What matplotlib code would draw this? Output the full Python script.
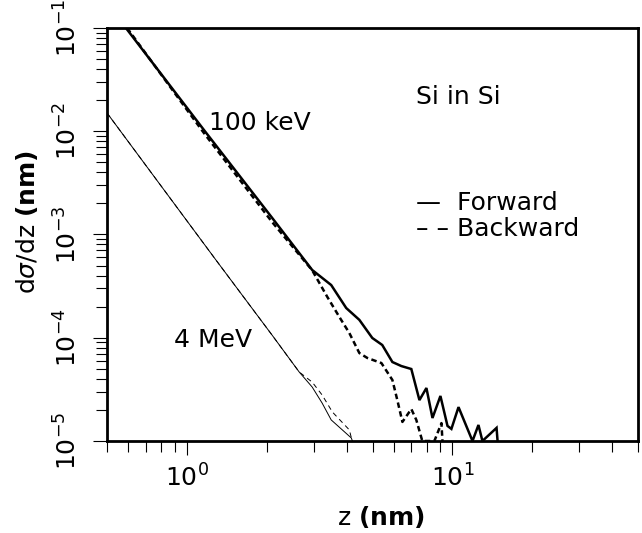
import matplotlib
matplotlib.use('Agg')
import matplotlib.pyplot as plt
from matplotlib.ticker import LogLocator, NullFormatter

plt.rcParams['font.family'] = ['DejaVu Sans']
plt.rcParams['mathtext.fontset'] = 'dejavusans'
plt.rcParams['axes.unicode_minus'] = False

# 100 keV, forward scattering
z_100f = [0.589, 1.159, 2.093, 2.963, 3.494, 3.98, 4.46, 4.99, 5.44, 5.94, 6.42, 7.0,
          7.51, 7.98, 8.41, 9.01, 9.58, 9.91, 10.54, 11.9, 12.53, 12.97, 14.66, 14.79]
s_100f = [1.0e-1, 1.028e-2, 1.45e-3, 4.53e-4, 3.24e-4, 1.94e-4, 1.49e-4, 9.95e-5, 8.51e-5,
          5.82e-5, 5.32e-5, 4.98e-5, 2.49e-5, 3.26e-5, 1.67e-5, 2.73e-5, 1.40e-5, 1.31e-5,
          2.13e-5, 1.0e-5, 1.43e-5, 1.0e-5, 1.34e-5, 1.0e-5]

# 100 keV, backward scattering
z_100b = [0.595, 1.159, 2.093, 2.963, 3.38, 3.75, 4.09, 4.46, 4.78, 5.4, 5.94, 6.2, 6.48,
          7.0, 7.31, 7.7, 8.55, 9.09, 9.17]
s_100b = [1.0e-1, 9.6e-3, 1.32e-3, 4.5e-4, 2.48e-4, 1.59e-4, 1.11e-4, 7.11e-5, 6.37e-5,
          5.69e-5, 3.90e-5, 2.49e-5, 1.53e-5, 2.04e-5, 1.60e-5, 1.0e-5, 1.0e-5, 1.49e-5, 1.0e-5]

# 4 MeV, forward scattering
z_4f = [0.5, 1.286, 2.093, 2.647, 2.963, 3.23, 3.494, 4.16, 4.2]
s_4f = [1.503e-2, 5.66e-4, 1.06e-4, 4.66e-5, 3.33e-5, 2.33e-5, 1.6e-5, 1.07e-5, 1.0e-5]

# 4 MeV, backward scattering
z_4b = [0.5, 1.286, 2.093, 2.647, 2.963, 3.23, 3.53, 4.09, 4.19]
s_4b = [1.503e-2, 5.66e-4, 1.06e-4, 4.66e-5, 3.72e-5, 2.79e-5, 1.91e-5, 1.28e-5, 1.0e-5]

fig = plt.figure(figsize=(6.42, 5.33), dpi=100)
ax = fig.add_axes([0.1667, 0.1726, 0.8271, 0.7749])

ax.plot(z_100f, s_100f, color='black', lw=1.8, solid_joinstyle='miter')
ax.plot(z_100b, s_100b, color='black', lw=1.8, dashes=(2.2, 1.4))
ax.plot(z_4f, s_4f, color='black', lw=0.7)
ax.plot(z_4b, s_4b, color='black', lw=0.7, dashes=(5, 4))

ax.set_xscale('log')
ax.set_yscale('log')
ax.set_xlim(0.5, 50)
ax.set_ylim(1e-5, 1e-1)

ax.xaxis.set_minor_locator(LogLocator(base=10, subs=range(2, 10)))
ax.yaxis.set_minor_locator(LogLocator(base=10, subs=range(2, 10)))
ax.xaxis.set_minor_formatter(NullFormatter())
ax.yaxis.set_minor_formatter(NullFormatter())

for sp in ax.spines.values():
    sp.set_linewidth(2.0)

ax.tick_params(which='both', direction='out', top=False, right=False, width=0.8,
               labelsize=18)
ax.tick_params(which='major', length=10)
ax.tick_params(which='minor', length=8)
ax.tick_params(axis='x', pad=7)
ax.tick_params(axis='y', pad=8, labelrotation=90)
for lab in ax.get_yticklabels():
    lab.set_verticalalignment('center')

ax.set_xlabel(r'z $\mathbf{(nm)}$', fontsize=18)
ax.set_ylabel(r'd$\sigma$/dz $\mathbf{(nm)}$', fontsize=18)
ax.xaxis.set_label_coords(0.515, -0.152)
ax.yaxis.set_label_coords(-0.126, 0.53)

ax.text(1.21, 1.2e-2, '100 keV', fontsize=18, ha='left', va='center')
ax.text(0.893, 9.5e-5, '4 MeV', fontsize=18, ha='left', va='center')
ax.text(7.31, 2.15e-2, 'Si in Si', fontsize=18, ha='left', va='center')
ax.text(7.31, 2.02e-3, '\u2014  Forward', fontsize=18, ha='left', va='center')
ax.text(7.31, 1.13e-3, '\u2013 \u2013 Backward', fontsize=18, ha='left', va='center')

fig.savefig('out.png', dpi=100)
